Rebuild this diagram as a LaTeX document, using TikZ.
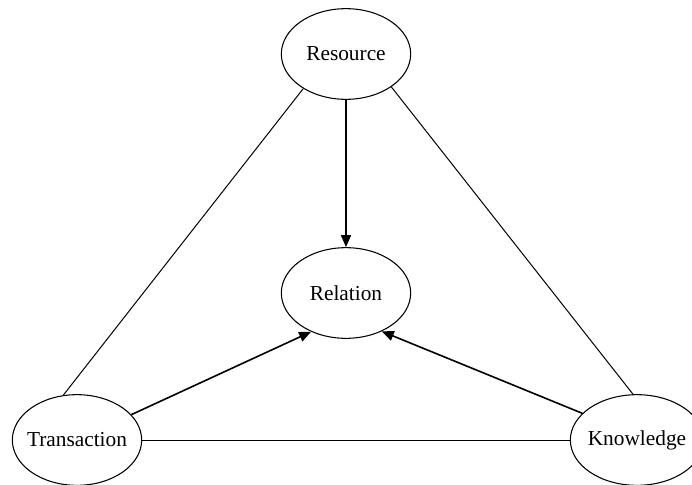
\documentclass[tikz,border=0pt]{standalone}
\usepackage{fontspec}
\setmainfont{Liberation Serif}
\usetikzlibrary{shapes.geometric,arrows.meta}
\begin{document}
\begin{tikzpicture}[x=0.75pt,y=-0.75pt,
    ent/.style={draw,ellipse,inner sep=0pt,line width=0.8pt,
        minimum width=97pt,minimum height=68pt,font=\fontsize{16}{19}\selectfont},
    link/.style={line width=0.75pt},
    arr/.style={line width=1.2pt,-{Triangle[length=9pt,width=7.5pt]}}]
    % 画布范围
    \useasboundingbox (0,0) rectangle (692,485);

    % 绘制四个椭圆
    \node[ent] (res) at (346,54) {\makebox[0pt]{Resource}};
    \node[ent] (rel) at (346,293) {\makebox[0pt]{Relation}};
    \node[ent] (tra) at (77,440) {\makebox[0pt]{Transaction}};
    \node[ent,minimum width=100pt] (kno) at (637,440) {\makebox[0pt]{Knowledge}};

    % 绘制三角形的边
    \draw[link] (res.219) -- (tra.107);
    \draw[link] (res.324) -- (kno.95);
    \draw[link] (tra.east) -- (kno.west);

    % 绘制指向Relation的箭头
    \draw[arr] (res.south) -- (rel.north);
    \draw[arr] (tra.25) -- (rel.228);
    \draw[arr] (kno.154) -- (rel.313);
\end{tikzpicture}
\end{document}
